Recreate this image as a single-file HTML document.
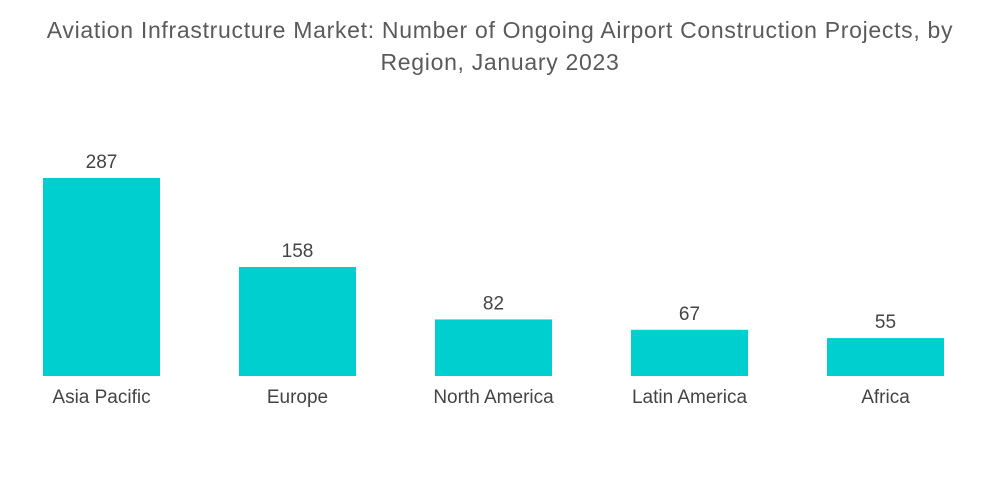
<!DOCTYPE html>
<html>
<head>
<meta charset="utf-8">
<style>
  html, body { margin: 0; padding: 0; background: #fff; }
  body { width: 1000px; height: 504px; overflow: hidden; font-family: "Liberation Sans", sans-serif; }
  .title { position: absolute; left: 0; top: 14px; width: 1000px; text-align: center; color: #5a5a5a; font-size: 23px; letter-spacing: 0.7px; line-height: 32px; }
</style>
</head>
<body>
<div class="title">Aviation Infrastructure Market: Number of Ongoing Airport Construction Projects, by<br>Region, January 2023</div>
<svg id="chart" width="1000" height="504" style="position:absolute;left:0;top:0"></svg>
<script>
const categories = ["Asia Pacific", "Europe", "North America", "Latin America", "Africa"];
const values = [287, 158, 82, 67, 55];
const labels = ["287", "158", "82", "67", "55"];

const svg = document.getElementById('chart');
const NS = 'http://www.w3.org/2000/svg';
const baseY = 376, scale = 198 / 287;
const x0 = 43, step = 196, barW = 117;
function xPos(i) { return x0 + i * step; }
function yPos(v) { return baseY - v * scale; }

categories.forEach((c, i) => {
  const r = document.createElementNS(NS, 'rect');
  r.setAttribute('x', xPos(i));
  r.setAttribute('y', yPos(values[i]));
  r.setAttribute('width', barW);
  r.setAttribute('height', baseY - yPos(values[i]));
  r.setAttribute('fill', '#00cfd0');
  
  
  svg.appendChild(r);

  const t = document.createElementNS(NS, 'text');
  t.setAttribute('x', xPos(i) + barW / 2);
  t.setAttribute('y', yPos(values[i]) - 10);
  t.setAttribute('text-anchor', 'middle');
  t.setAttribute('font-size', '19');
  t.setAttribute('fill', '#444');
  t.setAttribute('font-family', 'Liberation Sans, sans-serif');
  t.textContent = labels[i];
  
  
  svg.appendChild(t);

  const l = document.createElementNS(NS, 'text');
  l.setAttribute('x', xPos(i) + barW / 2);
  l.setAttribute('y', 403);
  l.setAttribute('text-anchor', 'middle');
  l.setAttribute('font-size', '19');
  l.setAttribute('fill', '#444');
  l.setAttribute('font-family', 'Liberation Sans, sans-serif');
  l.textContent = c;
  
  
  svg.appendChild(l);
});
</script>
</body>
</html>
